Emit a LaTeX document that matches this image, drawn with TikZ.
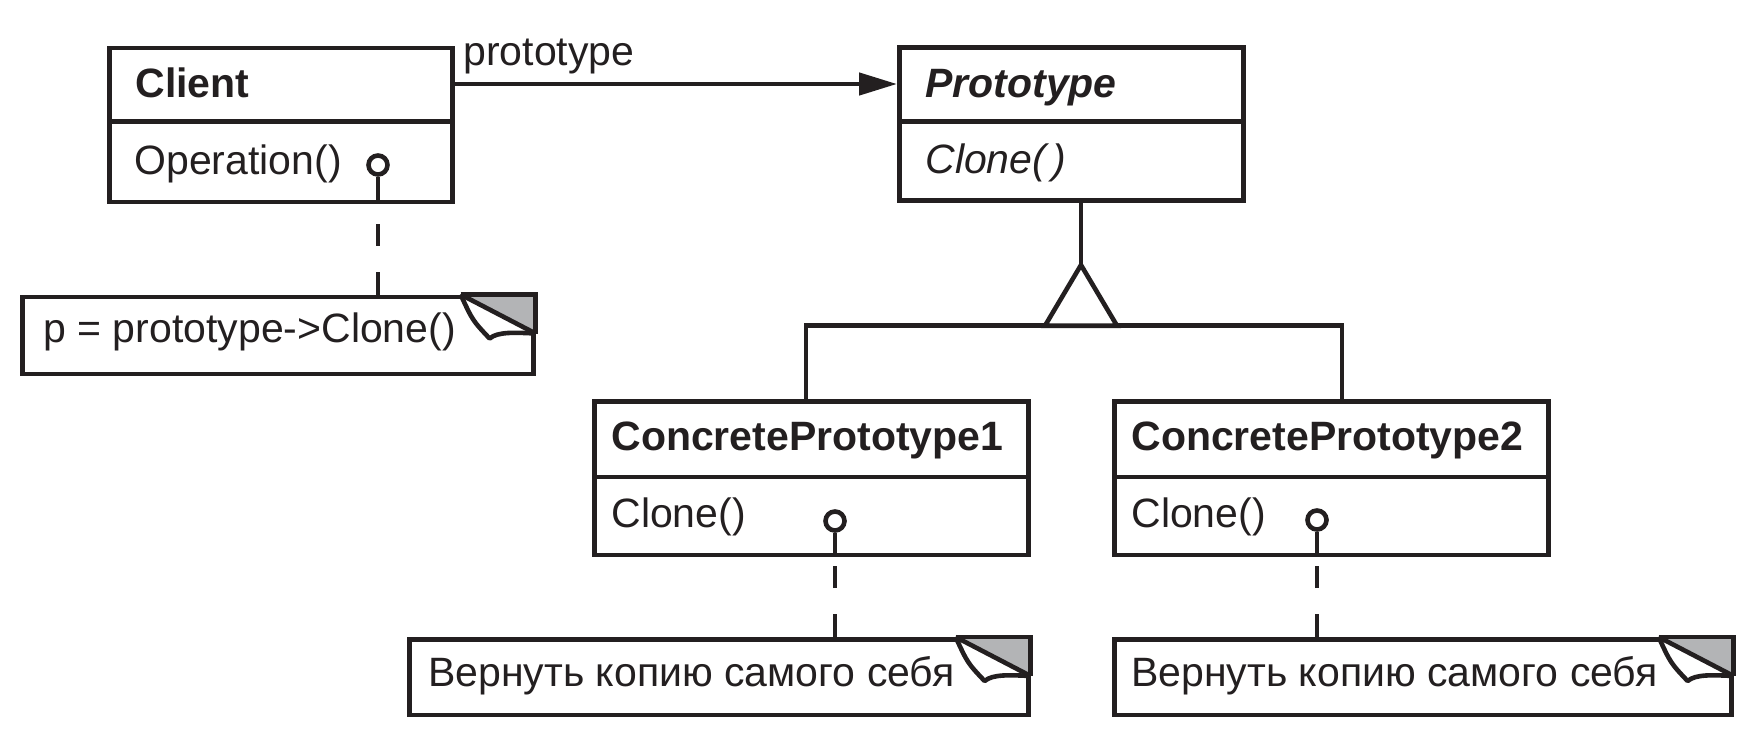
\documentclass[tikz,border=0pt]{standalone}
\usepackage{fontspec}
\setmainfont{Liberation Sans}
\usetikzlibrary{arrows.meta,calc}
\definecolor{ink}{HTML}{231F20}
\definecolor{foldgray}{HTML}{B3B4B6}
\newcommand\notefold[1]{%
  \fill[foldgray] ($(#1.north east)+(-75,0)$) -- (#1.north east) -- ($(#1.north east)+(0,39)$) -- cycle;
  \draw[wire] ($(#1.north east)+(-75,0)$) -- (#1.north east) -- ($(#1.north east)+(0,39)$);
  \draw[wire, line join=round] ($(#1.north east)+(-75,0)$) -- ($(#1.north east)+(0,39)$);
  \draw[wire, line join=round] ($(#1.north east)+(-75,0)$) .. controls ($(#1.north east)+(-63,26)$) .. ($(#1.north east)+(-46,44)$)
     .. controls ($(#1.north east)+(-38,37)$) and ($(#1.north east)+(-20,38)$) .. ($(#1.north east)+(0,39)$);
}
\begin{document}
\begin{tikzpicture}[x=0.5pt,y=-0.5pt,
  every node/.style={font=\fontsize{20.5pt}{24pt}\selectfont, text=ink},
  box/.style={draw=ink, line width=2.3pt, inner sep=0pt, anchor=north west},
  lbl/.style={inner sep=0pt, anchor=base west},
  wire/.style={draw=ink, line width=2.3pt},
  dashwire/.style={draw=ink, line width=2.3pt, dash pattern=on 11.5pt off 13pt on 11pt off 60pt},
  ring/.style={draw=ink, line width=2.3pt, circle, inner sep=0pt, minimum size=9.5pt},
]
\useasboundingbox (0,0) rectangle (1753,734);

% class boxes
\node[box, minimum width=171.5pt, minimum height=77pt] (client) at (107,45.5) {};
\node[box, minimum width=172pt, minimum height=76.5pt] (proto) at (897,45) {};
\node[box, minimum width=217pt, minimum height=76.75pt] (cp1) at (592,399) {};
\node[box, minimum width=217pt, minimum height=76.75pt] (cp2) at (1112,399) {};
\draw[wire] ($(client.north west)+(0,76.2)$) -- ($(client.north east)+(0,76.2)$);
\draw[wire] ($(proto.north west)+(0,76.7)$) -- ($(proto.north east)+(0,76.7)$);
\draw[wire] ($(cp1.north west)+(0,78)$) -- ($(cp1.north east)+(0,78)$);
\draw[wire] ($(cp2.north west)+(0,78)$) -- ($(cp2.north east)+(0,78)$);

% notes
\node[box, minimum width=255.5pt, minimum height=38.5pt] (cn) at (20,294.5) {};
\node[box, minimum width=309.5pt, minimum height=37.75pt] (n1) at (407,637) {};
\node[box, minimum width=308.5pt, minimum height=37.75pt] (n2) at (1112,637) {};
\notefold{cn}
\notefold{n1}
\notefold{n2}

% texts
\node[lbl] (tclient) at (135,97) {\textbf{Client}};
\node[lbl] (top) at (134,174) {Operation()};
\node[lbl] (tproto) at (925,97) {\textbf{\textit{Prototype}}};
\node[lbl] (tpclone) at (925,173) {\textit{Clone(\,)}};
\node[lbl] (tcp1) at (611,450) {\textbf{ConcretePrototype1}};
\node[lbl] (tc1) at (611,527) {Clone()};
\node[lbl] (tcp2) at (1131,450) {\textbf{ConcretePrototype2}};
\node[lbl] (tc2) at (1131,527) {Clone()};
\node[lbl] (tcn) at (43,342) {p = prototype->Clone()};
\node[lbl] (tn1) at (428,686) {Вернуть копию самого себя};
\node[lbl] (tn2) at (1131,686) {Вернуть копию самого себя};
\node[lbl] (tassoc) at (463,65) {prototype};

% association arrow
\coordinate (ay) at (0,84);
\draw[wire, -{Triangle[length=19pt,width=11pt]}] (client.east |- ay) -- (proto.west |- ay);

% generalization
\coordinate (apex) at (1081,265);
\coordinate (tl) at (1045,325.7);
\coordinate (tr) at (1117,325.7);
\coordinate (j1) at (806,325.7);
\coordinate (j2) at (1342,325.7);
\draw[wire] (proto.south -| apex) -- (apex);
\draw[wire] (cp1.north -| j1) -- (j1) -- (j2) -- (cp2.north -| j2);
\draw[wire, fill=white] (apex) -- (tl) -- (tr) -- cycle;

% note attachments
\node[ring] (c0) at (378,165) {};
\node[ring] (c1) at (835,521) {};
\node[ring] (c2) at (1317,520) {};
\draw[wire] (c0.south) -- (client.south -| c0);
\draw[wire] (c1.south) -- (cp1.south -| c1);
\draw[wire] (c2.south) -- (cp2.south -| c2);
\draw[dashwire] (cn.north -| c0) -- (client.south -| c0);
\draw[dashwire] (n1.north -| c1) -- (cp1.south -| c1);
\draw[dashwire] (n2.north -| c2) -- (cp2.south -| c2);
\end{tikzpicture}
\end{document}
